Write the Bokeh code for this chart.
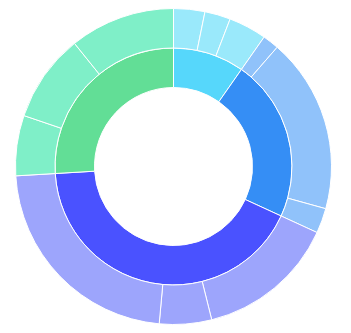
import numpy as np
from bokeh.plotting import figure
from bokeh.models import ColumnDataSource
from bokeh.embed import file_html
from bokeh.resources import INLINE

# Data
groups = ["A", "B", "C", "D"]
group_colors = ["#56D7FB", "#358EF5", "#4A52FF", "#62DE96"]
child_colors = ["#9AE9FB", "#90C2FA", "#9DA5FC", "#7FEFC8"]
children = {
    "A": [11.5, 9.5, 14.0],
    "B": [6.0, 64.5, 9.2],
    "C": [51.3, 19.2, 81.4],
    "D": [22.2, 32.4, 38.8],
}

group_vals = [sum(children[g]) for g in groups]
total = sum(group_vals)

def to_angles(vals):
    vals = np.array(vals, dtype=float)
    ends = np.cumsum(vals) / total * 2 * np.pi
    starts = ends - vals / total * 2 * np.pi
    # clockwise from 12 o'clock
    return np.pi / 2 - starts, np.pi / 2 - ends

s_in, e_in = to_angles(group_vals)
inner = ColumnDataSource(dict(start=s_in, end=e_in, color=group_colors))

child_vals = []
child_cols = []
for g, c in zip(groups, child_colors):
    for v in children[g]:
        child_vals.append(v)
        child_cols.append(c)
s_out, e_out = to_angles(child_vals)
outer = ColumnDataSource(dict(start=s_out, end=e_out, color=child_cols))

p = figure(width=351, height=333, x_range=(-173, 178), y_range=(-167, 166),
           output_backend="svg", toolbar_location=None, min_border=0)
p.axis.visible = False
p.grid.visible = False
p.outline_line_color = None
p.background_fill_color = "white"

p.annular_wedge(x=0, y=0, inner_radius=79, outer_radius=118.5,
                start_angle="start", end_angle="end", direction="clock",
                fill_color="color", line_color="white", line_width=1, source=inner)
p.annular_wedge(x=0, y=0, inner_radius=118.5, outer_radius=158,
                start_angle="start", end_angle="end", direction="clock",
                fill_color="color", line_color="white", line_width=1, source=outer)

open("out.html", "w").write(file_html(p, INLINE))
